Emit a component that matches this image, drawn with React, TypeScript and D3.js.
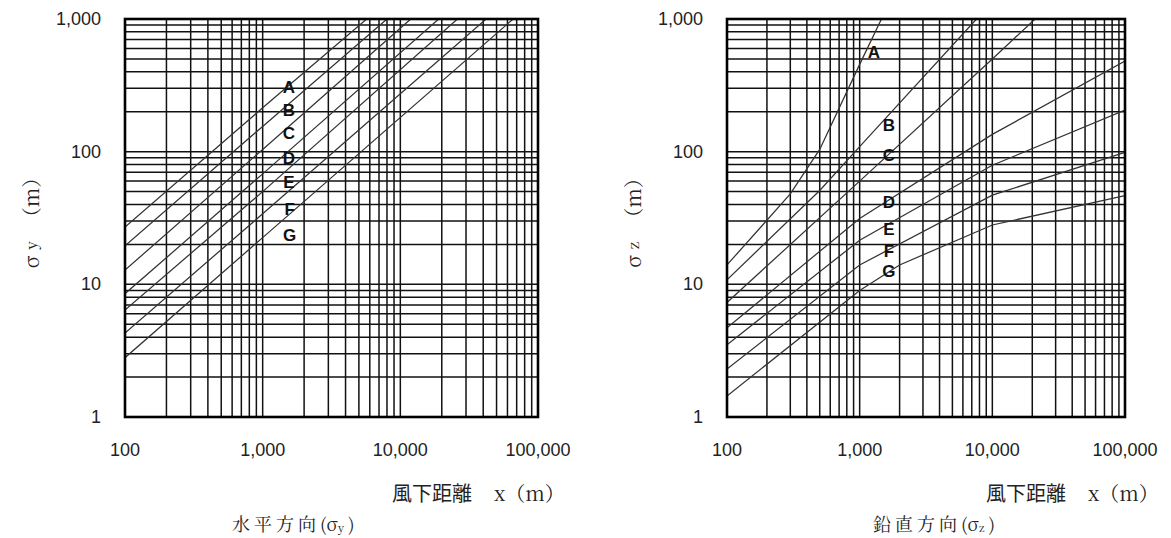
import React from "react";
import * as d3 from "d3";

// ---- data ----
const CLASSES = ["A", "B", "C", "D", "E", "F", "G"];

// horizontal dispersion sigma_y: [downwind distance (m), sigma (m)]
const SIGMA_Y_A: [number, number][] = [[100, 27], [1000, 214], [5700, 1000]];
const SIGMA_Y_B: [number, number][] = [[100, 19.5], [1000, 155], [8000, 1000]];
const SIGMA_Y_C: [number, number][] = [[100, 12.8], [1000, 104], [11900, 1000]];
const SIGMA_Y_D: [number, number][] = [[100, 8.5], [1000, 68], [19000, 1000]];
const SIGMA_Y_E: [number, number][] = [[100, 6.4], [1000, 50], [26000, 1000]];
const SIGMA_Y_F: [number, number][] = [[100, 4.3], [1000, 34], [42000, 1000]];
const SIGMA_Y_G: [number, number][] = [[100, 2.8], [1000, 22.5], [66000, 1000]];

// vertical dispersion sigma_z
const SIGMA_Z_A: [number, number][] = [[100, 14], [300, 48], [500, 104], [1000, 455], [1460, 1000]];
const SIGMA_Z_B: [number, number][] = [[100, 10.8], [500, 51], [1000, 109], [7600, 1000]];
const SIGMA_Z_C: [number, number][] = [[100, 7.3], [1000, 60], [10000, 500], [21000, 1000]];
const SIGMA_Z_D: [number, number][] = [[100, 4.7], [1000, 31.4], [10000, 135], [100000, 482]];
const SIGMA_Z_E: [number, number][] = [[100, 3.5], [1000, 21.5], [10000, 79], [100000, 206]];
const SIGMA_Z_F: [number, number][] = [[100, 2.3], [1000, 14], [10000, 47], [100000, 99]];
const SIGMA_Z_G: [number, number][] = [[100, 1.44], [1000, 9], [2000, 14], [10000, 28], [100000, 46.7]];

const SIGMA_Y = [SIGMA_Y_A, SIGMA_Y_B, SIGMA_Y_C, SIGMA_Y_D, SIGMA_Y_E, SIGMA_Y_F, SIGMA_Y_G];
const SIGMA_Z = [SIGMA_Z_A, SIGMA_Z_B, SIGMA_Z_C, SIGMA_Z_D, SIGMA_Z_E, SIGMA_Z_F, SIGMA_Z_G];

// class label anchors (distance, sigma)
const LABEL_Y_X = [1550, 1550, 1550, 1550, 1550, 1570, 1570];
const LABEL_Y_S = [307, 206, 136, 89.5, 59, 36.9, 23.5];
const LABEL_Z_X = [1282, 1663, 1663, 1663, 1663, 1663, 1663];
const LABEL_Z_S = [563, 158.6, 94.3, 41.7, 26.1, 17.8, 12.4];

const X_TICKS = [100, 1000, 10000, 100000];
const X_TICK_LABELS = ["100", "1,000", "10,000", "100,000"];
const Y_TICKS = [1, 10, 100, 1000];
const Y_TICK_LABELS = ["1", "10", "100", "1,000"];

const SANS = "Arial, 'Liberation Sans', sans-serif";
const SERIF = "'Noto Serif CJK JP', 'Noto Sans CJK JP', serif";
const CJK = "'Noto Sans CJK JP', sans-serif";

type PanelProps = {
  id: string;
  x0: number;
  x1: number;
  series: [number, number][][];
  labelX: number[];
  labelS: number[];
  sub: string;
  caption: string;
  titleX: number;
  captionX: number;
};

const Y0 = 19;
const Y1 = 417;

function Panel({ id, x0, x1, series, labelX, labelS, sub, caption, titleX, captionX }: PanelProps) {
  const xs = d3.scaleLog().domain([100, 100000]).range([x0, x1]);
  const ys = d3.scaleLog().domain([1, 1000]).range([Y1, Y0]);
  const line = d3
    .line<[number, number]>()
    .x((d) => xs(d[0]))
    .y((d) => ys(d[1]));

  const xGrid: number[] = [];
  for (let e = 100; e < 100000; e *= 10) for (let m = 1; m <= 9; m++) xGrid.push(e * m);
  const yGrid: number[] = [];
  for (let e = 1; e < 1000; e *= 10) for (let m = 1; m <= 9; m++) yGrid.push(e * m);

  return (
    <g>
      <defs>
        <clipPath id={id}>
          <rect x={x0} y={Y0} width={x1 - x0} height={Y1 - Y0} />
        </clipPath>
      </defs>
      {xGrid.map((v) => (
        <line key={"x" + v} x1={xs(v)} x2={xs(v)} y1={Y0} y2={Y1} stroke="#111" strokeWidth={1.5} />
      ))}
      {yGrid.map((v) => (
        <line key={"y" + v} x1={x0} x2={x1} y1={ys(v)} y2={ys(v)} stroke="#111" strokeWidth={1.5} />
      ))}
      <g clipPath={`url(#${id})`}>
        {series.map((s, i) => (
          <path key={i} d={line(s) || ""} fill="none" stroke="#333" strokeWidth={1.25} />
        ))}
      </g>
      <rect x={x0} y={Y0} width={x1 - x0} height={Y1 - Y0} fill="none" stroke="#000" strokeWidth={2.6} />
      {CLASSES.map((c, i) => (
        <text
          key={c}
          x={xs(labelX[i])}
          y={ys(labelS[i])}
          textAnchor="middle"
          dominantBaseline="central"
          fontFamily={SANS}
          fontWeight="bold"
          fontSize={17}
          fill="#111"
        >
          {c}
        </text>
      ))}
      {X_TICKS.map((v, i) => (
        <text key={"xt" + v} x={xs(v)} y={450} textAnchor="middle" dominantBaseline="central" fontFamily={SANS} fontSize={18} fill="#222">
          {X_TICK_LABELS[i]}
        </text>
      ))}
      {Y_TICKS.map((v, i) => (
        <text key={"yt" + v} x={x0 - 24} y={ys(v)} textAnchor="end" dominantBaseline="central" fontFamily={SANS} fontSize={18} fill="#222">
          {Y_TICK_LABELS[i]}
        </text>
      ))}
      <text
        transform={`translate(${x0 - 95},${(Y0 + Y1) / 2}) rotate(-90)`}
        textAnchor="middle"
        dominantBaseline="central"
        fontFamily={SERIF}
        fontSize={20}
        fill="#222"
      >
        <tspan>σ</tspan>
        <tspan dx={6} fontSize={15}>{sub}</tspan>
        <tspan dx={14}>（m）</tspan>
      </text>
      <text x={titleX} y={492} dominantBaseline="central" fontSize={20} fill="#222">
        <tspan fontFamily={CJK}>風下距離</tspan>
        <tspan dx={22} fontFamily={SERIF}>x（m）</tspan>
      </text>
      <text x={captionX} y={523} dominantBaseline="central" fontSize={18} fill="#222" fontFamily={SERIF} letterSpacing={4}>
        {caption}
        <tspan letterSpacing={0}>(σ</tspan>
        <tspan fontSize={11} dy={4}>{sub}</tspan>
        <tspan dy={-4}>)</tspan>
      </text>
    </g>
  );
}

export default function App() {
  return (
    <svg
      width={1171}
      height={538}
      viewBox="0 0 1171 538"
      style={{ position: "absolute", left: 0, top: 0, background: "#fff" }}
    >
      <rect width={1171} height={538} fill="#fff" />
      <Panel
        id="clipL"
        x0={125}
        x1={538}
        series={SIGMA_Y}
        labelX={LABEL_Y_X}
        labelS={LABEL_Y_S}
        sub="y"
        caption="水平方向"
        titleX={392}
        captionX={232}
      />
      <Panel
        id="clipR"
        x0={727}
        x1={1125}
        series={SIGMA_Z}
        labelX={LABEL_Z_X}
        labelS={LABEL_Z_S}
        sub="z"
        caption="鉛直方向"
        titleX={986}
        captionX={873}
      />
    </svg>
  );
}
